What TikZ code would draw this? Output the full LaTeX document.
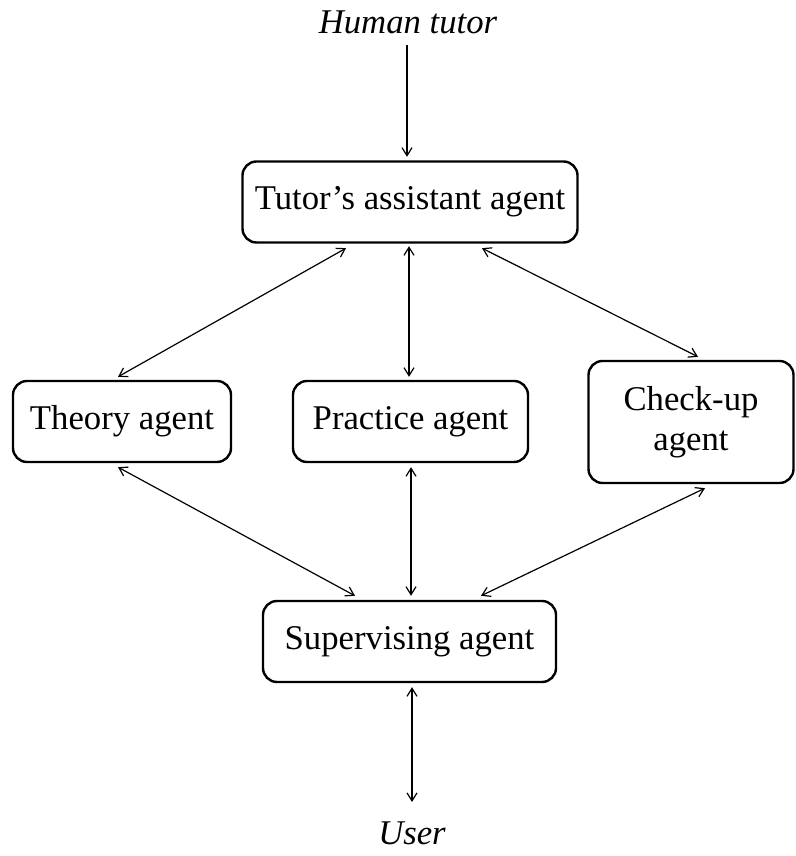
\documentclass[tikz,border=0pt]{standalone}
\usepackage{fontspec}
\setmainfont{Liberation Serif}
\usetikzlibrary{arrows.meta}
\tikzset{
  agent/.style={draw, line width=2.4pt, rounded corners=14pt, align=center,
    inner sep=0pt, font=\fontsize{34.7}{40}\selectfont},
  ext/.style={inner sep=0pt, font=\fontsize{34.7}{40}\selectfont\itshape},
  arr/.style={line width=1.2pt, -{Straight Barb[length=8pt,width=10pt]}},
  biarr/.style={line width=1.2pt, {Straight Barb[length=8pt,width=10pt]}-{Straight Barb[length=8pt,width=10pt]}}
}
\begin{document}
\begin{tikzpicture}[x=1pt,y=1pt]
\useasboundingbox (0,0) rectangle (795,856);

% external actors
\node[ext] (human) at (408,834) {Human tutor};
\node[ext] (user) at (412,23) {User};

% agents
\node[agent, minimum width=335pt, minimum height=81pt] (tutor) at (410,654) {Tutor’s assistant agent};
\node[agent, minimum width=218pt, minimum height=81pt] (theory) at (122,434.5) {Theory agent};
\node[agent, minimum width=235pt, minimum height=81pt] (practice) at (410.5,434.5) {Practice agent};
\node[agent, minimum width=205pt, minimum height=122pt] (checkup) at (691,434) {Check-up\\agent};
\node[agent, minimum width=293pt, minimum height=81pt] (super) at (409.5,214.5) {Supervising agent};

% connectors
\draw[arr] ([xshift=-1pt,yshift=-23pt]human.center) -- ([xshift=-3pt,yshift=3.5pt]tutor.north);
\draw[biarr] ([xshift=-64pt,yshift=-4.5pt]tutor.south) -- ([xshift=-4pt,yshift=3pt]theory.north);
\draw[biarr] ([xshift=-1pt,yshift=-2.5pt]tutor.south) -- ([xshift=-1.5pt,yshift=3pt]practice.north);
\draw[biarr] ([xshift=72pt,yshift=-4.5pt]tutor.south) -- ([xshift=7pt,yshift=3pt]checkup.north);
\draw[biarr] ([xshift=-4pt,yshift=-4pt]theory.south) -- ([xshift=-54.5pt,yshift=4pt]super.north);
\draw[biarr] ([xshift=0.5pt,yshift=-4pt]practice.south) -- ([xshift=1.5pt,yshift=4pt]super.north);
\draw[biarr] ([xshift=14pt,yshift=-4pt]checkup.south) -- ([xshift=71.5pt,yshift=4pt]super.north);
\draw[biarr] ([xshift=2.5pt,yshift=-4pt]super.south) -- ([xshift=0pt,yshift=31pt]user.center);
\end{tikzpicture}
\end{document}
